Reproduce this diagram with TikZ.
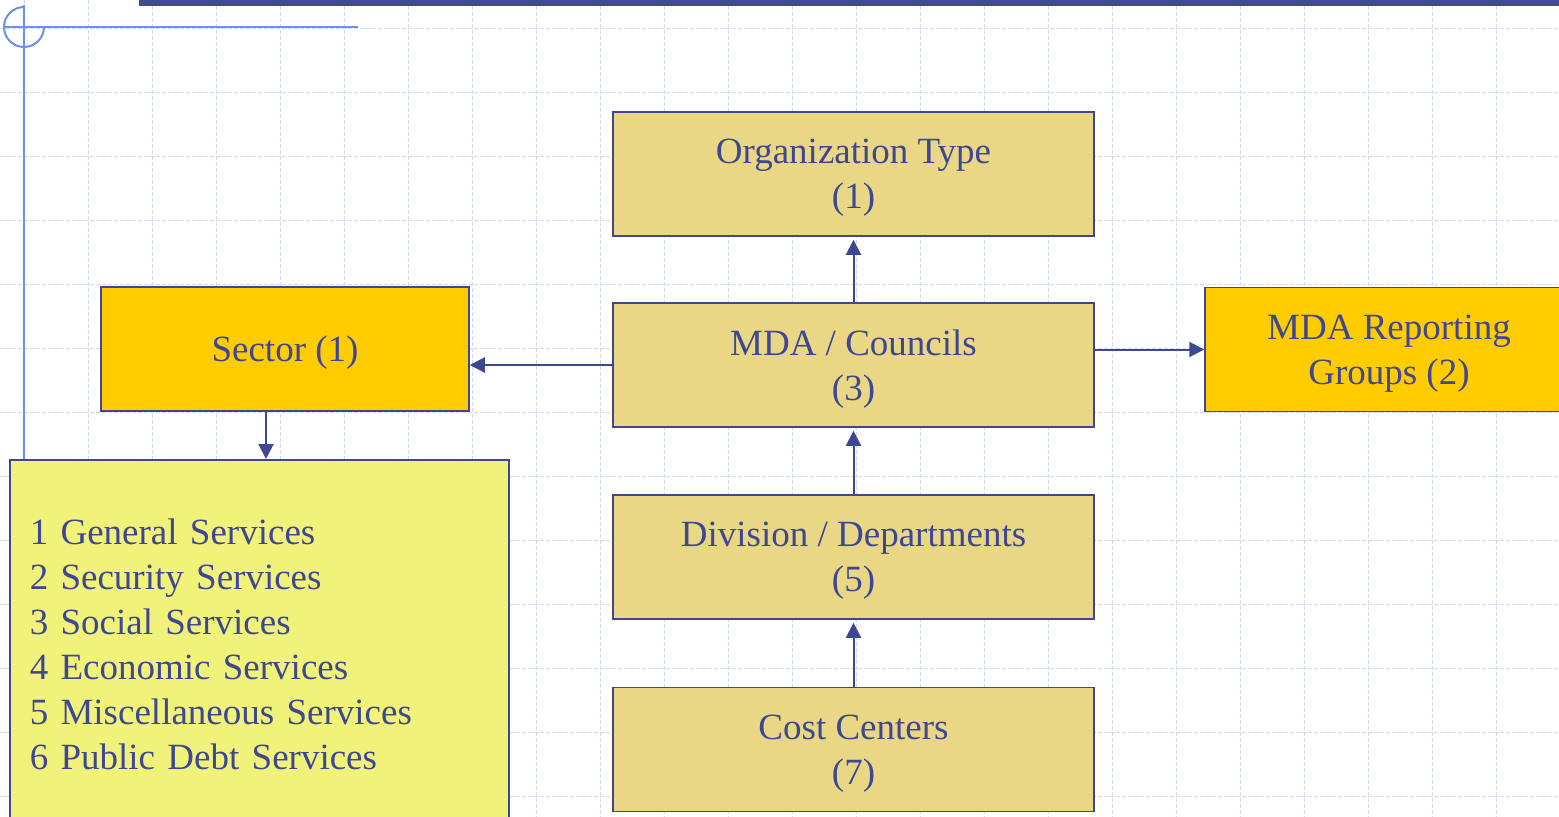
\documentclass[tikz,border=0pt]{standalone}
\usepackage{fontspec}
\setmainfont{Liberation Serif}
\usetikzlibrary{arrows.meta}

\definecolor{inkblue}{HTML}{3F4793}
\definecolor{barblue}{HTML}{404A8F}
\definecolor{lineblue}{HTML}{6F8FEF}
\definecolor{gridblue}{HTML}{CFD9F6}
\definecolor{tanbox}{HTML}{EAD785}
\definecolor{goldbox}{HTML}{FFCC00}
\definecolor{listbox}{HTML}{F1F27A}

\begin{document}
\begin{tikzpicture}[x=1pt, y=-1pt,
	box/.style={draw=inkblue, line width=1.5pt, text=inkblue, inner sep=0pt, align=center, text depth=-5pt, font=\fontsize{37}{45}\selectfont},
	level/.style={box, fill=tanbox, minimum width=481pt, minimum height=124pt},
	group/.style={box, fill=goldbox, minimum width=368pt, minimum height=124pt},
	link/.style={draw=inkblue, line width=2pt, -{Triangle[length=15pt,width=15pt]}},
	gridline/.style={gridblue, line width=1pt, dash pattern=on 4pt off 2pt}]
	\useasboundingbox (0,0) rectangle (1559,817);
	\clip (0,0) rectangle (1559,817);
	\foreach \x in {24,88,...,1559} \draw[gridline] (\x,0) -- (\x,817);
	\foreach \y in {28,92,...,817} \draw[gridline] (0,\y) -- (1559,\y);
	\fill[barblue] (139,0) rectangle (1559,6);
	\draw[lineblue, line width=2pt] (3,27) -- (358,27);
	\draw[lineblue, line width=2pt] (24,5) -- (24,459);
	\draw[lineblue, line width=2pt] (24,7) arc[start angle=90, end angle=360, radius=20pt];
	\node[level] (orgtype) at (853.5,174) {Organization Type\\(1)};
	\node[level] (mda) at (853.5,365) {MDA / Councils\\(3)};
	\node[level] (division) at (853.5,557) {Division / Departments\\(5)};
	\node[level] (cost) at (853.5,749.5) {Cost Centers\\(7)};
	\node[group] (sector) at (285,349) {Sector (1)};
	\node[group] (reporting) at (1389,349.5) {MDA Reporting\\Groups (2)};
	\node[box, fill=listbox, anchor=north west, inner xsep=20pt, text width=459pt, text depth={}, minimum height=369pt, align=left] (services) at (9,459)
		{1 General Services\\2 Security Services\\3 Social Services\\4 Economic Services\\5 Miscellaneous Services\\6 Public Debt Services};
	\draw[link, shorten >=3pt] (mda) -- (orgtype);
	\draw[link, shorten >=3pt] (division) -- (mda);
	\draw[link, shorten >=3pt] (cost) -- (division);
	\draw[link] (mda.west) -- (mda.west -| sector.east);
	\draw[link] (mda.east |- reporting) -- (reporting.west);
	\draw[link] ([xshift=-19pt]sector.south) -- ([xshift=-19pt]sector.south |- services.north);
\end{tikzpicture}
\end{document}
